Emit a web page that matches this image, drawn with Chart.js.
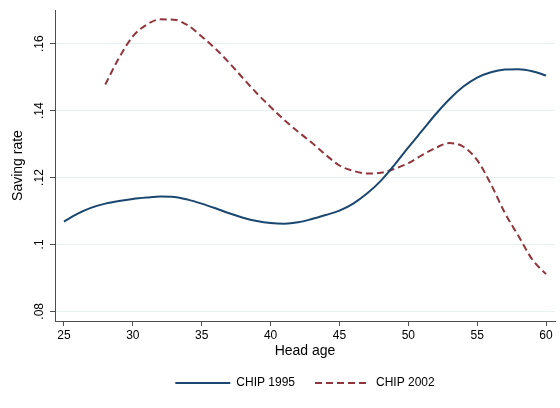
<!DOCTYPE html>
<html>
<head>
<meta charset="utf-8">
<script src="https://cdn.jsdelivr.net/npm/chart.js@4.4.0/dist/chart.umd.min.js"></script>
<style>
  html, body { margin: 0; padding: 0; background: #fff; }
  #wrap { width: 560px; height: 408px; }
</style>
</head>
<body>
<div id="wrap"><canvas id="chart" width="560" height="408"></canvas></div>
<script>
let ages1995 = [25, 26, 27, 28, 29, 30, 31, 32, 33, 34, 35, 36, 37, 38, 39, 40, 41, 42,
                43, 44, 45, 46, 47, 48, 49, 50, 51, 52, 53, 54, 55, 56, 57, 58, 59, 60];
let chip1995 = [.1068, .1092, .1110, .1122, .1130, .1136, .1140, .1143, .1142, .1134, .1122,
                .1108, .1093, .1080, .1070, .1064, .1062, .1066, .1076, .1088, .1101, .1122,
                .1152, .1190, .1238, .1290, .1340, .1390, .1435, .1472, .1499, .1515, .1523,
                .1524, .1518, .1505];
let ages2002 = [28, 29, 30, 31, 32, 33, 34, 35, 36, 37, 38, 39, 40, 41, 42, 43, 44,
                45, 46, 47, 48, 49, 50, 51, 52, 53, 54, 55, 56, 57, 58, 59, 60];
let chip2002 = [.1478, .1558, .1622, .1657, .1673, .1672, .1655, .1622, .1585, .1543, .1497,
                .1452, .1411, .1372, .1337, .1304, .1268, .1236, .1220, .1212, .1214, .1226,
                .1243, .1267, .1289, .1303, .1292, .1252, .1180, .1095, .1025, .0955, .0911];
let xTicks = [25, 30, 35, 40, 45, 50, 55, 60];
let yTicks = [.08, .1, .12, .14, .16];

function toPoints(xs, ys) {
  return xs.map((x, i) => ({x: x, y: ys[i]}));
}

function stataLabel(v) {
  // .16, .1, .08 - no leading zero
  let s = (Math.round(v * 100) / 100).toString();
  return s.replace(/^0\./, '.');
}

const axisColor = '#4d4d4d';
const gridColor = '#e8f0f2';
const font = 'Liberation Sans, Arial, Helvetica, sans-serif';

Chart.defaults.font.family = font;
Chart.defaults.color = '#000';

let chart = new Chart(document.getElementById('chart'), {
  type: 'line',
  data: {
    datasets: [
      {
        label: 'CHIP 1995',
        data: toPoints(ages1995, chip1995),
        borderColor: '#1a476f',
        backgroundColor: '#1a476f',
        borderWidth: 2,
        pointRadius: 0,
        cubicInterpolationMode: 'monotone',
        fill: false
      },
      {
        label: 'CHIP 2002',
        data: toPoints(ages2002, chip2002),
        borderColor: '#90353b',
        backgroundColor: '#90353b',
        borderWidth: 2,
        borderDash: [7, 4],
        pointRadius: 0,
        cubicInterpolationMode: 'monotone',
        fill: false
      }
    ]
  },
  options: {
    responsive: false,
    animation: false,
    events: [],
    layout: {padding: {left: 10, right: 5, top: 10, bottom: 9}},
    scales: {
      x: {
        type: 'linear',
        min: 24.35,
        max: 60.65,
        afterBuildTicks: function (scale) {
          scale.ticks = xTicks.map(v => ({value: v}));
        },
        afterFit: function (scale) { scale.height = 36; },
        grid: {
          drawOnChartArea: false,
          drawTicks: true,
          tickLength: 5,
          tickColor: axisColor,
          tickWidth: 1
        },
        border: {display: true, color: axisColor, width: 1},
        ticks: {
          font: {size: 12},
          color: '#000',
          padding: 2,
          maxRotation: 0
        },
        title: {
          display: true,
          text: 'Head age',
          font: {size: 14},
          color: '#000',
          padding: {top: 0, bottom: -3}
        }
      },
      y: {
        type: 'linear',
        min: .0771,
        max: .1701,
        afterBuildTicks: function (scale) {
          scale.ticks = yTicks.map(v => ({value: v}));
        },
        afterFit: function (scale) { scale.width = 45; },
        grid: {
          color: gridColor,
          lineWidth: 1,
          drawTicks: true,
          tickLength: 5,
          tickColor: axisColor
        },
        border: {display: true, color: axisColor, width: 1},
        ticks: {
          font: {size: 12},
          color: '#000',
          padding: 2,
          minRotation: 90,
          maxRotation: 90,
          crossAlign: 'center',
          callback: stataLabel
        },
        title: {
          display: true,
          text: 'Saving rate',
          font: {size: 14},
          color: '#000',
          padding: {top: 0, bottom: 0}
        }
      }
    },
    plugins: {
      legend: {
        position: 'bottom',
        fullSize: false,
        labels: {
          usePointStyle: true,
          pointStyle: 'line',
          pointStyleWidth: 55,
          boxHeight: 12,
          padding: 20,
          color: '#000',
          font: {size: 12},
          generateLabels: function (chart) {
            let items = Chart.defaults.plugins.legend.labels.generateLabels(chart);
            items.forEach(function (item, i) {
              item.lineDash = chart.data.datasets[i].borderDash || [];
              item.lineWidth = 2;
            });
            return items;
          }
        }
      },
      tooltip: {enabled: false}
    }
  }
});
</script>
</body>
</html>
